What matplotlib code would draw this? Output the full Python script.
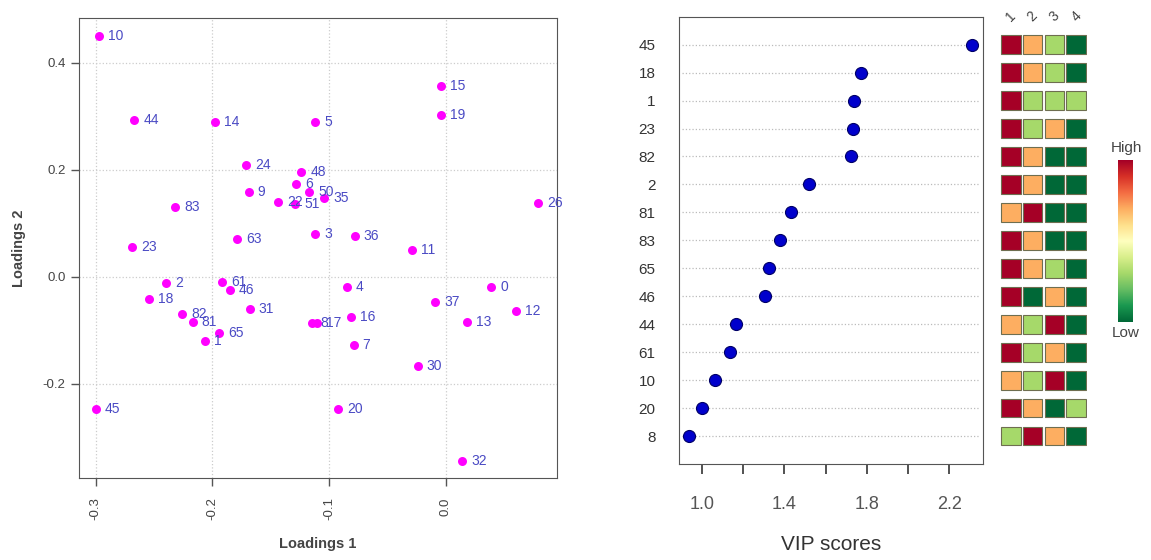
import numpy as np
import matplotlib
matplotlib.use('Agg')
import matplotlib.pyplot as plt
from matplotlib.colors import ListedColormap, BoundaryNorm

plt.rcParams['font.family'] = ['Liberation Sans', 'DejaVu Sans']

# loadings plot
load_ids = ['10', '44', '14', '5', '24', '48', '6', '9', '50', '35', '22', '51',
            '83', '3', '63', '23', '36', '15', '19', '26', '11', '2', '18', '82',
            '81', '1', '65', '61', '46', '31', '45', '8', '17', '4', '16', '7',
            '20', '30', '37', '13', '0', '12', '32']
load1 = [-0.297, -0.267, -0.198, -0.112, -0.171, -0.124, -0.128, -0.169, -0.117,
         -0.104, -0.144, -0.129, -0.232, -0.112, -0.179, -0.269, -0.078, -0.004,
         -0.004, 0.079, -0.029, -0.240, -0.254, -0.226, -0.217, -0.206, -0.194,
         -0.192, -0.185, -0.168, -0.300, -0.115, -0.110, -0.085, -0.081, -0.079,
         -0.092, -0.024, -0.009, 0.018, 0.039, 0.060, 0.014]
load2 = [0.450, 0.292, 0.290, 0.289, 0.208, 0.195, 0.174, 0.159, 0.158, 0.148,
         0.139, 0.136, 0.130, 0.079, 0.070, 0.056, 0.076, 0.356, 0.302, 0.138,
         0.049, -0.011, -0.042, -0.070, -0.085, -0.120, -0.105, -0.009, -0.024,
         -0.060, -0.248, -0.087, -0.086, -0.020, -0.075, -0.128, -0.247, -0.166,
         -0.048, -0.085, -0.020, -0.064, -0.345]

# VIP scores (top to bottom)
vip_ids = ['45', '18', '1', '23', '82', '2', '81', '83', '65', '46', '44', '61',
           '10', '20', '8']
vip = [2.312, 1.770, 1.738, 1.731, 1.722, 1.519, 1.430, 1.377, 1.324, 1.307,
       1.165, 1.138, 1.063, 0.999, 0.938]
# relative level in groups 1..4 (1 = low, 4 = high)
levels = [[4, 3, 2, 1],
          [4, 3, 2, 1],
          [4, 2, 2, 2],
          [4, 2, 3, 1],
          [4, 3, 1, 1],
          [4, 3, 1, 1],
          [3, 4, 1, 1],
          [4, 3, 1, 1],
          [4, 3, 2, 1],
          [4, 1, 3, 1],
          [3, 2, 4, 1],
          [4, 2, 3, 1],
          [3, 2, 4, 1],
          [4, 3, 1, 2],
          [2, 4, 3, 1]]
groups = ['1', '2', '3', '4']

fig = plt.figure(figsize=(11.51, 5.6), dpi=100)
grey = '#555555'

# ---- left: loadings ----
ax1 = fig.add_axes([0.0684, 0.1464, 0.4153, 0.8215])
ax1.scatter(load1, load2, s=42, color='#ff00ff', zorder=3, linewidths=0)
for lab, x, y in zip(load_ids, load1, load2):
    ax1.annotate(lab, (x, y), xytext=(6.5, 0), textcoords='offset points',
                 va='center', ha='left', fontsize=10, color='#4a4ac4', zorder=4)
ax1.set_xlim(-0.3146, 0.0951)
ax1.set_ylim(-0.3763, 0.4836)
ax1.set_xticks([-0.3, -0.2, -0.1, 0.0])
ax1.set_xticklabels(['-0.3', '-0.2', '-0.1', '0.0'], rotation=90)
ax1.set_yticks([-0.2, 0.0, 0.2, 0.4])
ax1.set_yticklabels(['-0.2', '0.0', '0.2', '0.4'])
ax1.grid(True, color='#cccccc', linestyle=':', linewidth=0.9)
ax1.set_axisbelow(True)
ax1.tick_params(colors=grey, labelcolor='#444444', labelsize=9.5, length=6, width=1)
ax1.tick_params(axis='x', pad=8)
for sp in ax1.spines.values():
    sp.set_color(grey)
ax1.set_xlabel('Loadings 1', fontsize=10.5, fontweight='bold', color='#444444', labelpad=12)
ax1.set_ylabel('Loadings 2', fontsize=10.5, fontweight='bold', color='#444444', labelpad=12)

# ---- right: VIP scores ----
ax2 = fig.add_axes([0.5902, 0.1714, 0.2641, 0.7988])
ypos = np.arange(len(vip), 0, -1)
for y in ypos:
    ax2.axhline(y, color='#bbbbbb', linestyle=':', linewidth=0.9, xmin=0.01, xmax=0.99, zorder=1)
ax2.scatter(vip, ypos, s=75, color='#0000cc', edgecolors='#000066', linewidths=0.8, zorder=3)
ax2.set_xlim(0.890, 2.3655)
ax2.set_ylim(0, 16)
ax2.set_yticks(ypos)
ax2.set_yticklabels(vip_ids)
ax2.set_xticks([1.0, 1.2, 1.4, 1.6, 1.8, 2.0, 2.2])
ax2.set_xticklabels(['1.0', '', '1.4', '', '1.8', '', '2.2'])
ax2.tick_params(axis='y', length=0, pad=17, labelsize=11, labelcolor='#333333')
ax2.tick_params(axis='x', length=7, width=1.2, color='#333333', pad=16,
                labelsize=13, labelcolor='#555555')
for sp in ax2.spines.values():
    sp.set_color(grey)
ax2.set_xlabel('VIP scores', fontsize=15, color='#333333', labelpad=16)

# ---- heatmap of group levels ----
cell_colors = ['#006837', '#a6d96a', '#fdae61', '#a50026']
cmap = ListedColormap(cell_colors)
norm = BoundaryNorm([0.5, 1.5, 2.5, 3.5, 4.5], cmap.N)
ax3 = fig.add_axes([1000 / 1151, 0.1714, 87 / 1151, 0.7988])
for i, row in enumerate(levels):
    for j, v in enumerate(row):
        ax3.add_patch(plt.Rectangle((j + 1 - 0.45, ypos[i] - 0.335), 0.9, 0.67,
                                    facecolor=cmap(norm(v)), edgecolor='#6e6e50',
                                    linewidth=0.8))
ax3.set_xlim(0.5, 4.5)
ax3.set_ylim(0, 16)
ax3.axis('off')
for j, g in enumerate(groups):
    ax3.text(j + 1, 16.0, g, rotation=45, ha='center', va='center',
             fontsize=10, color='#444444', clip_on=False)

# ---- colour key ----
ax4 = fig.add_axes([1118 / 1151, (560 - 322) / 560, 15 / 1151, 162 / 560])
grad = np.linspace(1, 0, 256).reshape(-1, 1)
ax4.imshow(grad, aspect='auto', cmap='RdYlGn_r', extent=[0, 1, 0, 1])
ax4.axis('off')
fig.text(1126 / 1151, 1 - 148 / 560, 'High', ha='center', va='center',
         fontsize=11, color='#444444')
fig.text(1126 / 1151, 1 - 333 / 560, 'Low', ha='center', va='center',
         fontsize=11, color='#444444')

fig.savefig('out.png', dpi=100)
